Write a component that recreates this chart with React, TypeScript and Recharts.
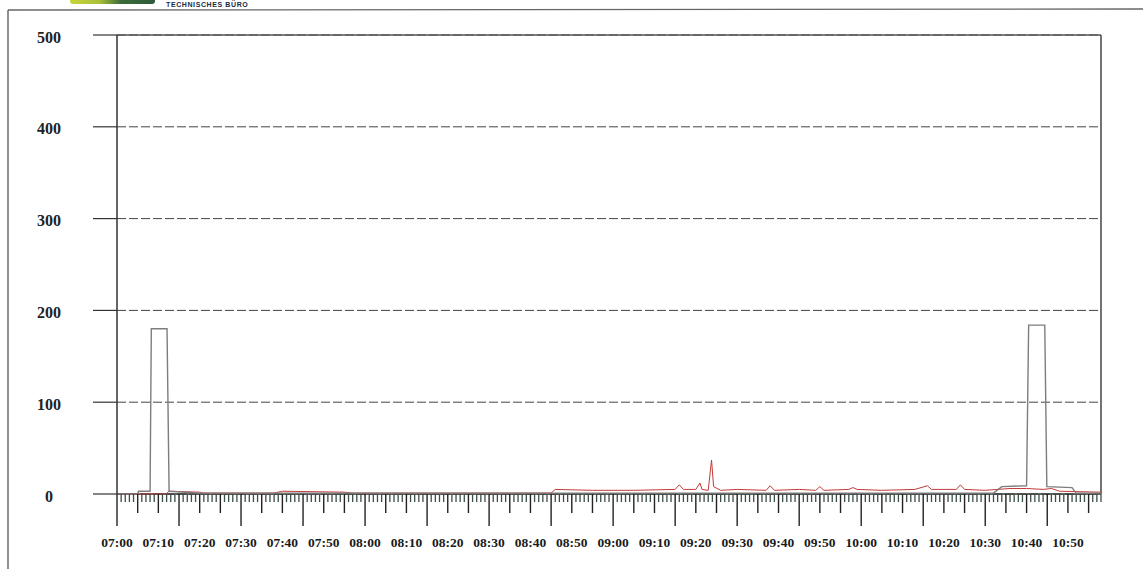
import React from 'react';
import { LineChart, Line, XAxis, YAxis, CartesianGrid, ReferenceLine } from 'recharts';

// minutes after 07:00
const grayTimes = [0, 5, 5.2, 8, 8.3, 12.1, 12.6, 20, 60, 120, 180, 212, 214, 220, 220.5, 224.4, 224.9, 231, 232, 238];
const grayValues = [0, 0, 3, 3, 180, 180, 3, 1, 1, 1, 1, 1, 8, 9, 184, 184, 8, 7, 1, 1];

const redTimes = [0, 12, 12.5, 20, 21, 38, 40, 55, 57, 105, 106, 115, 125, 135, 136, 137, 140, 141, 141.5, 143, 143.8, 144.3, 146, 150, 157, 158, 159, 165, 169, 170, 171, 177, 178, 179, 185, 193, 196, 197, 203, 204, 205, 210, 216, 220, 224, 226, 228, 238];
const redValues = [0, 0, 3, 2, 1, 1, 3, 2, 1, 1, 5, 4, 4, 5, 10, 5, 5, 12, 5, 4, 37, 8, 4, 5, 4, 9, 4, 5, 4, 8, 4, 5, 7, 5, 4, 5, 9, 5, 5, 10, 5, 4, 6, 6, 5, 6, 3, 2];

const yTicks = [0, 100, 200, 300, 400, 500];
const xLabels = ['07:00', '07:10', '07:20', '07:30', '07:40', '07:50', '08:00', '08:10', '08:20', '08:30', '08:40', '08:50', '09:00', '09:10', '09:20', '09:30', '09:40', '09:50', '10:00', '10:10', '10:20', '10:30', '10:40', '10:50'];
const xMax = 238;
const xTicks = Array.from({ length: xMax + 1 }, (_, i) => i);

const grayData = grayTimes.map((t, i) => ({ t, v: grayValues[i] }));
const redData = redTimes.map((t, i) => ({ t, v: redValues[i] }));

const W = 1143;
const H = 569;
const PLOT_LEFT = 117;
const PLOT_RIGHT = 1101;
const PLOT_TOP = 35;
const PLOT_BOTTOM = 494;

const XTick = (props: any) => {
  const { x, payload } = props;
  const m = payload.value as number;
  const len = m % 15 === 0 ? 32 : m % 5 === 0 ? 19 : 8;
  const col = m % 5 === 0 ? '#222' : '#3c4f46';
  const label = m % 10 === 0 ? xLabels[m / 10] : null;
  return (
    <g>
      <line x1={x} x2={x} y1={PLOT_BOTTOM} y2={PLOT_BOTTOM + len} stroke={col} strokeWidth={m % 5 === 0 ? 1.4 : 1.3} />
      {label && (
        <text x={x} y={PLOT_BOTTOM + 53} textAnchor="middle" fontFamily="Liberation Serif" fontWeight="bold" fontSize={13.5} fill="#1a1a1a">
          {label}
        </text>
      )}
    </g>
  );
};

const YTick = (props: any) => {
  const { y, payload } = props;
  return (
    <g>
      <line x1={93} x2={PLOT_LEFT} y1={y} y2={y} stroke="#333" strokeWidth={1.2} />
      <text x={49} y={y + 4} textAnchor="middle" dominantBaseline="middle" fontFamily="Liberation Serif" fontWeight="bold" fontSize={16} fill="#222">
        {payload.value}
      </text>
    </g>
  );
};

export default function App() {
  return (
    <div style={{ position: 'absolute', left: 0, top: 0, width: W, height: H, background: '#fff', overflow: 'hidden' }}>
      <svg width={W} height={H} style={{ position: 'absolute', left: 0, top: 0 }}>
        <defs>
          <linearGradient id="logo" x1="0" x2="1" y1="0" y2="0">
            <stop offset="0" stopColor="#c8d43a" />
            <stop offset="0.35" stopColor="#a8c03a" />
            <stop offset="0.6" stopColor="#3b6b3a" />
            <stop offset="1" stopColor="#2d5a3a" />
          </linearGradient>
        </defs>
        <rect x={70} y={-4} width={85} height={8} rx={3} fill="url(#logo)" />
        <text x={166} y={7} fontFamily="Liberation Sans" fontWeight="bold" fontSize={7} fill="#1a2a40" letterSpacing={0.6}>
          TECHNISCHES BÜRO
        </text>
        <line x1={8} x2={W} y1={10} y2={9} stroke="#666" strokeWidth={1.3} />
        <line x1={8} x2={8} y1={10} y2={H} stroke="#555" strokeWidth={1.3} />
      </svg>
      <div style={{ position: 'absolute', left: 0, top: 0 }}>
        <LineChart width={W} height={H} margin={{ top: PLOT_TOP, right: W - PLOT_RIGHT, bottom: 0, left: 0 }}>
          <CartesianGrid vertical={false} stroke="#444" strokeDasharray="9 3" />
          <XAxis
            type="number"
            dataKey="t"
            domain={[0, xMax]}
            ticks={xTicks}
            interval={0}
            allowDataOverflow
            tickLine={false}
            axisLine={false}
            tick={<XTick />}
            height={H - PLOT_BOTTOM}
          />
          <YAxis
            type="number"
            domain={[0, 500]}
            ticks={yTicks}
            interval={0}
            width={PLOT_LEFT}
            tickLine={false}
            axisLine={{ stroke: '#333', strokeWidth: 1.5 }}
            tick={<YTick />}
          />
          <ReferenceLine y={0} stroke="#333" strokeWidth={1.5} />
          <ReferenceLine y={500} stroke="#555" strokeWidth={1.3} />
          <ReferenceLine x={xMax} stroke="#444" strokeWidth={1.5} />
          <Line data={redData} dataKey="v" type="linear" stroke="#c23a3a" strokeWidth={1} dot={false} isAnimationActive={false} />
          <Line data={grayData} dataKey="v" type="linear" stroke="#7d7d7d" strokeWidth={1.4} dot={false} isAnimationActive={false} />
        </LineChart>
      </div>
    </div>
  );
}
